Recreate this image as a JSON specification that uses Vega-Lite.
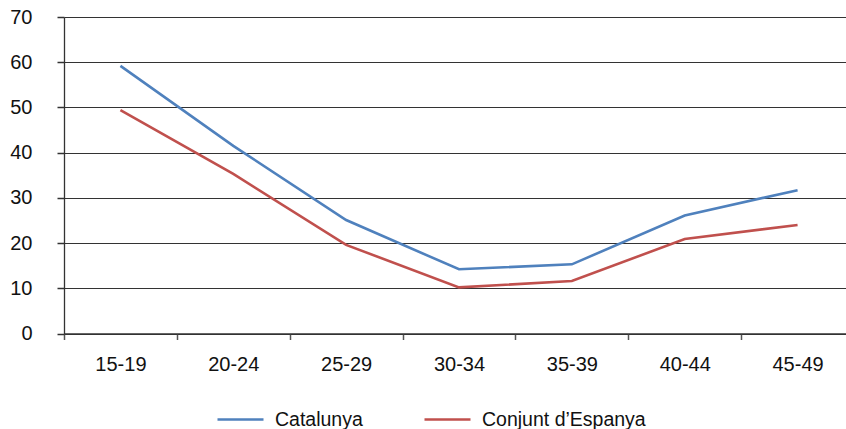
{
  "$schema": "https://vega.github.io/schema/vega-lite/v6.json",
  "width": 782,
  "height": 316.5,
  "autosize": {"type": "none"},
  "padding": {"left": 64, "top": 17, "right": 0, "bottom": 95.5},
  "background": "white",
  "config": {
    "view": {"stroke": null},
    "font": "Liberation Sans",
    "axis": {
      "labelFont": "Liberation Sans",
      "labelFontSize": 20,
      "labelColor": "#111",
      "domainColor": "#333",
      "tickColor": "#555",
      "gridColor": "#333",
      "domainWidth": 1.3,
      "gridWidth": 1.2,
      "tickWidth": 1.5
    }
  },
  "data": {
    "values": [
      {"age": "15-19", "serie": "Catalunya", "v": 59.2},
      {"age": "20-24", "serie": "Catalunya", "v": 41.5},
      {"age": "25-29", "serie": "Catalunya", "v": 25.1},
      {"age": "30-34", "serie": "Catalunya", "v": 14.2},
      {"age": "35-39", "serie": "Catalunya", "v": 15.3},
      {"age": "40-44", "serie": "Catalunya", "v": 26.1},
      {"age": "45-49", "serie": "Catalunya", "v": 31.7},
      {"age": "15-19", "serie": "Conjunt d’Espanya", "v": 49.4},
      {"age": "20-24", "serie": "Conjunt d’Espanya", "v": 35.3},
      {"age": "25-29", "serie": "Conjunt d’Espanya", "v": 19.6},
      {"age": "30-34", "serie": "Conjunt d’Espanya", "v": 10.2},
      {"age": "35-39", "serie": "Conjunt d’Espanya", "v": 11.6},
      {"age": "40-44", "serie": "Conjunt d’Espanya", "v": 20.9},
      {"age": "45-49", "serie": "Conjunt d’Espanya", "v": 24.0}
    ]
  },
  "mark": {"type": "line", "strokeWidth": 2.6},
  "encoding": {
    "x": {
      "field": "age",
      "type": "nominal",
      "scale": {"type": "band", "range": [0, 790], "paddingInner": 0, "paddingOuter": 0},
      "axis": {
        "title": null,
        "labelAngle": 0,
        "tickBand": "extent",
        "tickSize": 6,
        "labelPadding": 15,
        "grid": false
      }
    },
    "y": {
      "field": "v",
      "type": "quantitative",
      "scale": {"domain": [0, 70], "nice": false},
      "axis": {
        "title": null,
        "values": [0, 10, 20, 30, 40, 50, 60, 70],
        "tickSize": 7,
        "labelPadding": 25,
        "grid": true,
        "tickColor": "#333"
      }
    },
    "color": {
      "field": "serie",
      "type": "nominal",
      "scale": {"domain": ["Catalunya", "Conjunt d’Espanya"], "range": ["#4f81bd", "#c0504d"]},
      "legend": {
        "title": null,
        "orient": "none",
        "direction": "horizontal",
        "legendX": 152,
        "legendY": 378,
        "symbolType": "stroke",
        "symbolSize": 2116,
        "symbolStrokeWidth": 2.5,
        "labelFont": "Liberation Sans",
        "labelFontSize": 19.5,
        "labelColor": "#111",
        "labelOffset": 10,
        "columnPadding": 56,
        "labelLimit": 300
      }
    }
  }
}
